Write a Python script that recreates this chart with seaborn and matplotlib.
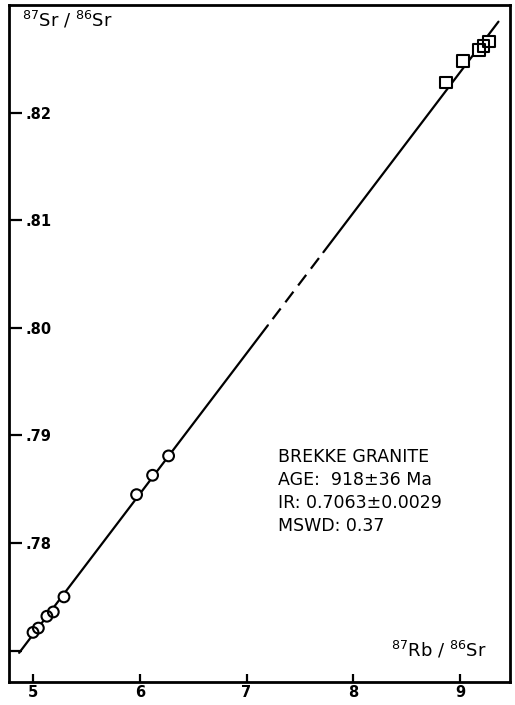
import numpy as np
import pandas as pd
import matplotlib.pyplot as plt
import seaborn as sns

# 87Rb/86Sr vs 87Sr/86Sr
circle_rb = [5.00, 5.05, 5.13, 5.19, 5.29, 5.97, 6.12, 6.27]
circle_sr = [0.7717, 0.7721, 0.7732, 0.7736, 0.7750, 0.7845, 0.7863, 0.7881]
square_rb = [8.87, 9.03, 9.18, 9.22, 9.27]
square_sr = [0.8228, 0.8248, 0.8258, 0.8262, 0.8266]

x_ticks = [5, 6, 7, 8, 9]
y_ticks = [0.77, 0.78, 0.79, 0.80, 0.81, 0.82]
y_labels = ['', '.78', '.79', '.80', '.81', '.82']

info = ['BREKKE GRANITE', 'AGE:  918±36 Ma', 'IR: 0.7063±0.0029', 'MSWD: 0.37']

# isochron extent and the dashed stretch in the middle
line_start, gap_start, gap_end, line_end = 4.87, 7.20, 7.72, 9.36

circles = pd.DataFrame({'rb': circle_rb, 'sr': circle_sr})
squares = pd.DataFrame({'rb': square_rb, 'sr': square_sr})

sns.set_style('ticks')
plt.rcParams['font.family'] = ['DejaVu Sans']
plt.rcParams['text.color'] = 'black'
plt.rcParams['xtick.color'] = 'black'
plt.rcParams['ytick.color'] = 'black'

fig = plt.figure(figsize=(5.15, 7.05), dpi=100)
ax = fig.add_axes([9 / 515, 23 / 705, 501 / 515, 677 / 705])

# regression line through all points
fit = np.poly1d(np.polyfit(circle_rb + square_rb, circle_sr + square_sr, 1))
lw = 1.6
for a, b, ls in [(line_start, gap_start, '-'),
                 (gap_start, gap_end, (6, (6, 3.5))),
                 (gap_end, line_end, '-')]:
    xs = np.array([a, b])
    sns.lineplot(x=xs, y=fit(xs), color='black', lw=lw, linestyle=ls, ax=ax, zorder=1)

# white masks hide the line inside the symbols, outlines drawn on top
sns.scatterplot(data=circles, x='rb', y='sr', marker='o', s=60, color='white',
                edgecolor='none', ax=ax, zorder=2)
sns.scatterplot(data=squares, x='rb', y='sr', marker='s', s=70, color='white',
                edgecolor='none', ax=ax, zorder=2)
sns.scatterplot(data=circles, x='rb', y='sr', marker='o', s=60, facecolor='none',
                edgecolor='black', linewidth=1.5, ax=ax, zorder=3)
sns.scatterplot(data=squares, x='rb', y='sr', marker='s', s=70, facecolor='none',
                edgecolor='black', linewidth=1.5, ax=ax, zorder=3)

ax.set_xlim(4.775, 9.468)
ax.set_ylim(0.76709, 0.8300)
ax.set_xticks(x_ticks)
ax.set_xticklabels([str(t) for t in x_ticks], fontweight='bold', fontsize=10.5)
ax.set_yticks(y_ticks)
ax.set_yticklabels(y_labels, fontweight='bold', fontsize=10.5)
ax.tick_params(axis='x', direction='in', length=6, width=1.6, pad=2)
ax.tick_params(axis='y', direction='in', length=9, width=1.6, pad=-12)
for lab in ax.get_yticklabels():
    lab.set_horizontalalignment('left')
ax.set_xlabel('')
ax.set_ylabel('')
for sp in ax.spines.values():
    sp.set_linewidth(2)
    sp.set_color('black')

ax.text(0.026, 0.978, r'$^{87}$Sr / $^{86}$Sr', transform=ax.transAxes,
        ha='left', va='center', fontsize=13)
ax.text(0.954, 0.037, r'$^{87}$Rb / $^{86}$Sr', transform=ax.transAxes,
        ha='right', va='baseline', fontsize=13)
ax.text(0.537, 0.3456, '\n'.join(info), transform=ax.transAxes,
        ha='left', va='top', fontsize=12.5, linespacing=1.35)

fig.savefig('out.png', dpi=100)
